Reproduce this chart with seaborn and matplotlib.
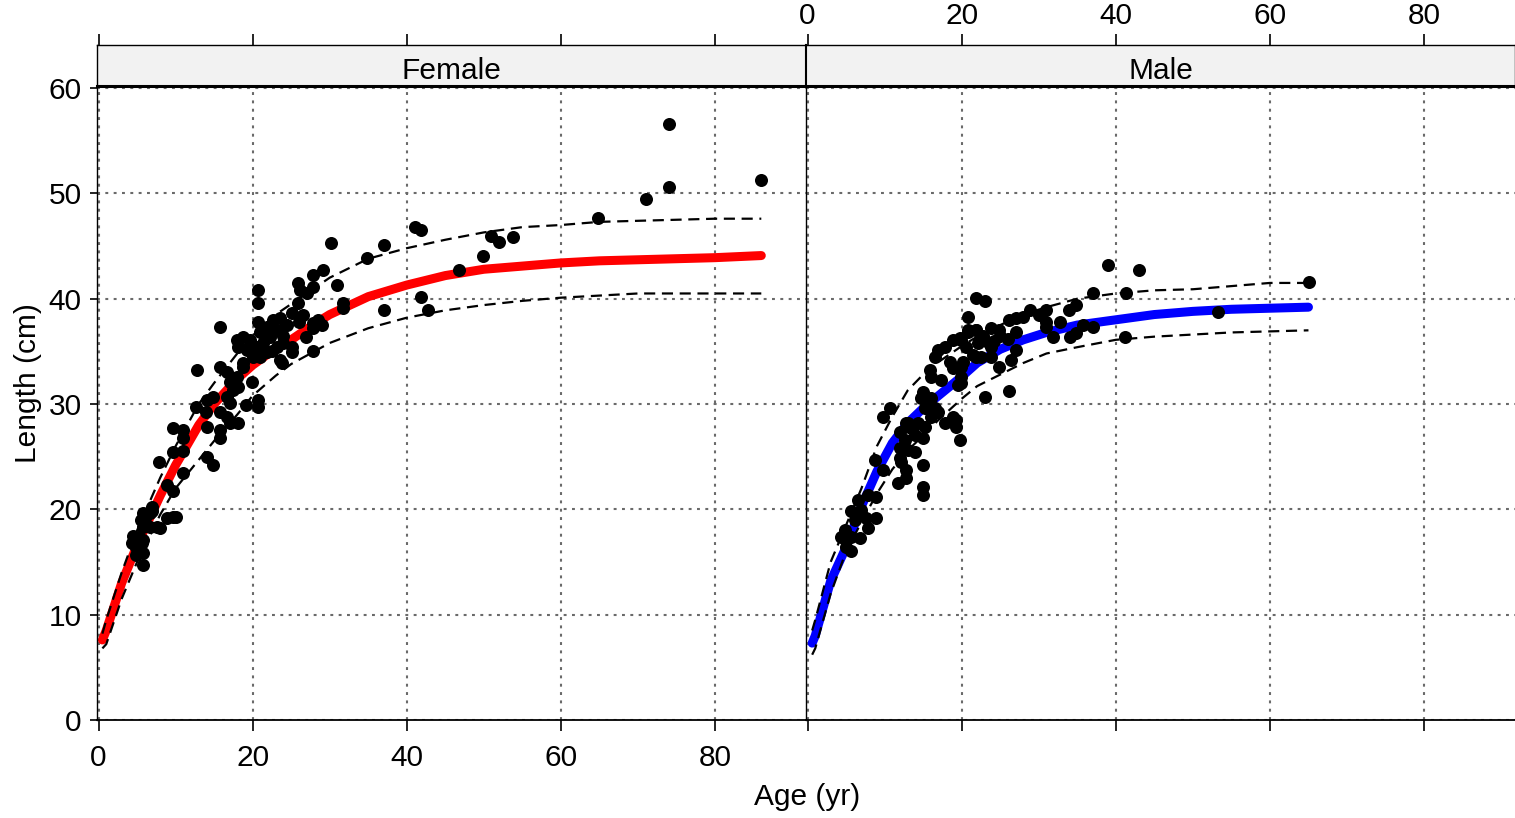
import numpy as np
import pandas as pd
import matplotlib
matplotlib.use("Agg")
import matplotlib.pyplot as plt
import seaborn as sns

# ---------------- data ----------------
female_age = [74, 74, 71, 86, 64.8, 50.9, 52, 53.8, 49.9, 46.8, 41, 41.9, 41.9, 42.7, 37, 37, 34.9, 30.1,
              30.9, 31.7, 31.7, 29.1, 27.8, 25.9, 26.2, 27.1, 27.8, 25.9, 25.1, 27.8, 27.8, 26.9, 27.8, 25.1,
              25.1, 24, 23.2, 23.6, 23.8,
              21, 21.9, 22.7, 23.6, 23.2, 22.3, 21.4, 20.6, 19.7, 18.8, 18, 18.1, 19.3, 20, 21, 21.9,
              20.7, 20.7, 20.7, 15.8, 12.8, 20.7, 20.7, 19.1, 19.9,
              15.8, 16.7, 17.1, 17.5, 16.7, 17.1, 18, 18.1, 18.8, 18.7,
              14.1, 14.9, 13.9, 15.8, 16.7, 14.1, 15.8, 17.1, 18.1, 15.8,
              12.6, 11, 11,
              9.7, 7.8, 9.7, 11, 14.1, 14.9, 11, 8.9, 9.7,
              5.8, 6.7, 5.8, 7.6, 9.7, 8.9, 5.1, 5.8,
              6.9, 6.7, 8, 10, 5.2, 5.7, 4.8, 5.8, 4.8, 5.8,
              4.3, 4.5, 6, 6.2, 5.5, 7,
              24.5, 26, 24, 22.5, 26.5, 28.5, 29]
female_len = [56.6, 50.6, 49.5, 51.3, 47.7, 46.0, 45.4, 45.9, 44.1, 42.7, 46.8, 46.5, 40.2, 38.9, 45.1, 38.9, 43.9, 45.3,
              41.3, 39.6, 39.1, 42.7, 42.3, 41.5, 40.8, 40.5, 41.1, 39.6, 38.6, 37.7, 37.2, 36.4, 35.0, 35.4,
              34.9, 35.8, 35.4, 34.2, 33.9,
              36.8, 37.3, 38, 38.2, 37, 36.4, 35.8, 35.4, 36.1, 36.4, 36.1, 35.4, 35.1, 34.5, 34.5, 34.9,
              40.8, 39.6, 37.8, 37.3, 33.2, 30.4, 29.7, 29.9, 32.1,
              33.5, 33, 32.1, 31.3, 30.7, 30.1, 32.6, 31.6, 33.5, 33.9,
              30.4, 30.7, 29.2, 29.2, 28.8, 27.8, 27.5, 28.2, 28.2, 26.8,
              29.7, 27.5, 26.8,
              27.7, 24.5, 25.4, 25.5, 25, 24.2, 23.5, 22.3, 21.7,
              19.7, 19.7, 18.3, 18.3, 19.3, 19.2, 16.8, 17.1,
              19.8, 18.3, 18.2, 19.3, 17.4, 16.8, 16.4, 15.9, 15.7, 14.7,
              16.8, 17.5, 18.8, 19.5, 19, 20.2,
              37.5, 37.8, 36.5, 35, 38.5, 38, 37.5]

male_age = [65.1, 53.2, 39, 43, 37.1, 41.3, 41.2, 21.8, 23, 20.8, 26.1, 23,
            28.9, 31, 30, 33.9, 34.9, 26.1, 27.1, 28, 31, 31, 32.8, 35.8, 37.1, 31.9, 34.1, 34.9,
            23.8, 24.8, 27, 21.8, 20.8, 19.9, 22.1, 23.8, 21.8, 23.8, 24.8, 26.4, 27.1, 19.9, 19.9,
            16.9, 16.5, 17.8, 18.9, 19.8, 20.5, 20.8, 21.9, 21.5, 22.5, 23.5,
            15.9, 16, 17.3, 18.9, 19.9, 19.5,
            15, 14.7, 16, 15.2, 16.5, 16.9,
            13, 14.3, 15.2, 17.8, 18.9, 19.3,
            10.7, 9.8, 16, 19.2, 19.8,
            12.8, 13.4, 12, 13.9, 15, 12.6, 12, 13, 13.9, 15, 12.1, 12,
            12.8, 12.8, 11.7, 15, 15, 8.7, 9.8,
            6.5, 7.8, 8.9, 6.9, 5.6, 7.6, 8.9, 6.1, 7.8,
            4.8, 4.3, 5.6, 5, 5.6, 6.8,
            25, 26, 22.8, 24.2, 18.5, 20.2]
male_len = [41.6, 38.7, 43.2, 42.7, 40.5, 40.5, 36.4, 40.1, 39.8, 38.3, 31.2, 30.7,
            38.9, 38.9, 38.5, 38.9, 39.4, 38, 38.2, 38.3, 37.8, 37.3, 37.8, 37.5, 37.3, 36.4, 36.4, 36.7,
            37.2, 37, 36.8, 37, 36.8, 36.1, 35.8, 35.4, 34.5, 34.5, 33.5, 34.2, 35.1, 33.5, 32,
            35.1, 34.5, 35.4, 36.1, 36.3, 35.4, 37, 37, 34.7, 34.5, 35.8,
            33.2, 32.6, 32.3, 33.4, 32.6, 31.8,
            31.1, 30.6, 30.6, 29.6, 29.6, 29.2,
            28.2, 28.2, 27.8, 28.2, 28.8, 27.8,
            29.6, 28.8, 28.8, 28.5, 26.6,
            28.2, 27.7, 27.3, 27.1, 26.8, 26.6, 25.8, 25.6, 25.4, 24.2, 24.5, 24.9,
            23.7, 23, 22.5, 22.1, 21.4, 24.7, 23.7,
            20.9, 21.4, 21.2, 19.9, 19.8, 19.2, 19.2, 19, 18.2,
            18, 17.4, 17.4, 16.4, 16, 17.3,
            36.5, 36.2, 36.5, 36, 34, 34]

# fitted curves and confidence bands
f_fit_age = [0.5, 1, 3, 5, 8, 10, 13, 15, 18, 20, 23, 25, 28, 30, 35, 40, 45, 50, 55, 60, 65, 70, 75, 80, 86]
f_fit = [7.6, 8.5, 13, 16.6, 21.3, 24.2, 28, 30, 32.4, 33.7, 35.3, 36.1, 37.6, 38.5, 40.2, 41.3, 42.2, 42.8,
         43.1, 43.4, 43.6, 43.7, 43.8, 43.9, 44.1]
f_upper = [8.2, 9.5, 14, 18, 23, 26, 30, 32, 34.8, 36.5, 38.5, 39.5, 41, 42, 43.8, 44.8, 45.6, 46.3, 46.8,
           47.0, 47.3, 47.4, 47.5, 47.6, 47.6]
f_lower = [6.8, 7.2, 11.5, 15, 19.5, 22, 24.7, 26.5, 29, 30.8, 32.7, 33.8, 35, 35.8, 37.2, 38.2, 38.9, 39.4,
           39.8, 40.1, 40.3, 40.5, 40.5, 40.5, 40.5]

m_fit_age = [0.6, 1, 3, 5, 7, 9, 11, 13, 15, 17, 20, 22, 25, 28, 31, 35, 40, 45, 50, 55, 60, 65]
m_fit = [7.3, 8, 13.2, 16.4, 20.3, 23.6, 26.3, 28.2, 29.6, 30.8, 32.6, 33.9, 35.2, 36.1, 36.8, 37.5, 38.0,
         38.5, 38.8, 39.0, 39.1, 39.2]
m_upper = [8.5, 9.5, 15, 18.5, 22, 26, 28.8, 31.3, 32.8, 34, 35.5, 36.4, 37.5, 38.5, 39.2, 40, 40.5, 40.8,
           40.9, 41.2, 41.5, 41.5]
m_lower = [6.2, 6.8, 12, 16, 18.8, 21.5, 23.8, 25.6, 27, 28.5, 30.5, 31.7, 32.8, 33.9, 34.8, 35.4, 36.1,
           36.4, 36.6, 36.8, 36.9, 37.0]

sexes = ["Female", "Male"]
fit_colors = ["#ff0000", "#0000ff"]
x_ticks = [0, 20, 40, 60, 80]
y_ticks = [0, 10, 20, 30, 40, 50, 60]

# ---------------- figure ----------------
sns.set_style("white")
plt.rcParams["font.family"] = ["Liberation Sans", "DejaVu Sans"]
plt.rcParams["text.color"] = "black"
plt.rcParams["axes.labelcolor"] = "black"

FS = 21.5
W, H = 1515, 818
fig = plt.figure(figsize=(W / 100, H / 100), dpi=100)

panel_left = [97, 806]
panel_w = 709
y_bot, y_top, strip_top = 720, 86, 45
XLIM = (-0.2, 91.8)
YLIM = (0, 60.2)

points = [pd.DataFrame({"age": female_age, "length": female_len}),
          pd.DataFrame({"age": male_age, "length": male_len})]
fits = [pd.DataFrame({"age": f_fit_age, "fit": f_fit, "upper": f_upper, "lower": f_lower}),
        pd.DataFrame({"age": m_fit_age, "fit": m_fit, "upper": m_upper, "lower": m_lower})]

for i, sex in enumerate(sexes):
    ax = fig.add_axes([panel_left[i] / W, (H - y_bot) / H, panel_w / W, (y_bot - y_top) / H])
    ax.set_xlim(*XLIM)
    ax.set_ylim(*YLIM)
    ax.set_xticks(x_ticks)
    ax.set_yticks(y_ticks)
    ax.grid(True, color="#6a6a6a", linestyle=(0, (1.4, 2.6)), linewidth=1.5)
    ax.set_axisbelow(True)

    fd = fits[i]
    sns.lineplot(data=fd, x="age", y="fit", ax=ax, color=fit_colors[i], linewidth=6.5,
                 sort=True, errorbar=None, solid_capstyle="round", zorder=2)
    sns.scatterplot(data=points[i], x="age", y="length", ax=ax, color="black", s=88,
                    linewidth=0, zorder=3)
    sns.lineplot(data=fd, x="age", y="upper", ax=ax, color="black", linewidth=1.6,
                 errorbar=None, zorder=4)
    sns.lineplot(data=fd, x="age", y="lower", ax=ax, color="black", linewidth=1.6,
                 errorbar=None, zorder=4)
    for ln in ax.lines[1:]:
        ln.set_linestyle((0, (5, 3)))

    ax.set_xlabel("")
    ax.set_ylabel("")
    for s in ["top", "right"]:
        ax.spines[s].set_visible(False)
    ax.spines["left"].set_linewidth(1.0)
    ax.spines["bottom"].set_linewidth(1.3)
    for s in ["left", "bottom"]:
        ax.spines[s].set_color("black")
    ax.tick_params(axis="x", direction="out", length=8, width=1.2, colors="black",
                   labelsize=FS, bottom=True, labelbottom=(i == 0), pad=9)
    if i == 0:
        ax.tick_params(axis="y", direction="out", length=5, width=1.2, colors="black",
                       labelsize=FS, left=True, labelleft=True, pad=6)
    else:
        ax.tick_params(axis="y", left=False, labelleft=False)

    # strip
    sax = fig.add_axes([panel_left[i] / W, (H - y_top) / H, panel_w / W, (y_top - strip_top) / H])
    sax.set_facecolor("#f2f2f2")
    sax.set_xlim(*XLIM)
    sax.set_ylim(0, 1)
    sax.set_yticks([])
    sax.set_xticks(x_ticks)
    sax.tick_params(axis="x", direction="out", length=8, width=1.2, colors="black",
                    top=True, bottom=False, labelbottom=False, labeltop=(i == 1),
                    labelsize=FS, pad=3)
    for s in sax.spines.values():
        s.set_color("black")
        s.set_linewidth(1.0)
    sax.spines["bottom"].set_linewidth(2.2)
    sax.spines["left"].set_linewidth(1.5 if i == 1 else 1.0)
    sax.text(0.5, 0.36, sex, transform=sax.transAxes, ha="center", va="center",
             fontsize=FS, color="black")

fig.text(28 / W, 1 - 383 / H, "Length (cm)", rotation=90, ha="center", va="center",
         fontsize=FS)
fig.text(807 / W, 1 - 797 / H, "Age (yr)", ha="center", va="center", fontsize=FS)

fig.savefig("out.png", dpi=100)
